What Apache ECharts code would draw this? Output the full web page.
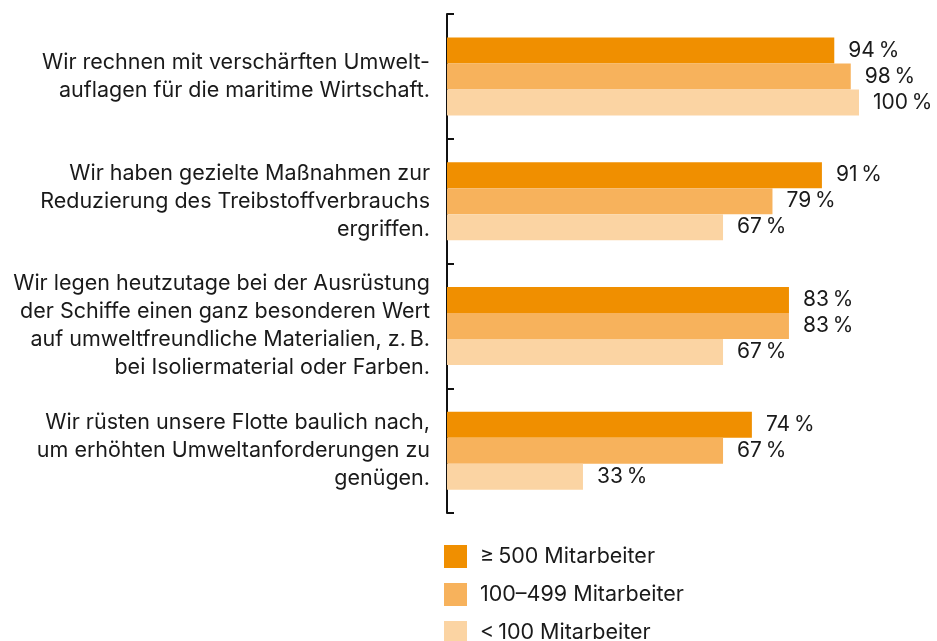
<!DOCTYPE html>
<html>
<head>
	<meta charset="UTF-8">
	<title>Umwelt</title>
	<script src="https://cdn.jsdelivr.net/npm/echarts@6/dist/echarts.min.js"></script>
	<style>
		html, body { margin: 0; padding: 0; background: #fff; }
		#chart { width: 937px; height: 641px; }
	</style>
</head>
<body>
	<div id="chart"></div>
	<script>
		var categories = [
			'Wir rechnen mit verschärften Umwelt-\nauflagen für die maritime Wirtschaft.',
			'Wir haben gezielte Maßnahmen zur\nReduzierung des Treibstoffverbrauchs\nergriffen.',
			'Wir legen heutzutage bei der Ausrüstung\nder Schiffe einen ganz besonderen Wert\nauf umweltfreundliche Materialien, z.\u2009B.\nbei Isoliermaterial oder Farben.',
			'Wir rüsten unsere Flotte baulich nach,\num erhöhten Umweltanforderungen zu\ngenügen.'
		];
		var seriesNames = ['\u2265\u2009500 Mitarbeiter', '100\u2013499 Mitarbeiter', '<\u2009100 Mitarbeiter'];
		var big = [94, 91, 83, 74];
		var mid = [98, 79, 83, 67];
		var small = [100, 67, 67, 33];
		var colors = ['#F08F00', '#F7B25C', '#FBD4A3'];

		var font = 'Inter, "Liberation Sans", Arial, sans-serif';
		function bar(name, data, color) {
			return {
				name: name,
				type: 'bar',
				data: data,
				barWidth: 26,
				barGap: 0,
				itemStyle: { color: color },
				label: {
					show: true,
					position: 'right',
					distance: 14,
					formatter: '{c}\u2009%',
					color: '#1a1a1a',
					fontSize: 21,
					fontFamily: font
				}
			};
		}

		var chart = echarts.init(document.getElementById('chart'), null, { renderer: 'canvas' });
		chart.setOption({
			animation: false,
			color: colors,
			grid: { left: 447, top: 14, right: 78, bottom: 128, containLabel: false },
			xAxis: { type: 'value', min: 0, max: 100, show: false },
			yAxis: {
				type: 'category',
				inverse: true,
				data: categories,
				axisLine: { show: true, lineStyle: { color: '#111', width: 2 } },
				axisTick: { show: true, inside: true, length: 7, lineStyle: { color: '#111', width: 2 } },
				axisLabel: {
					margin: 17,
					color: '#1a1a1a',
					fontSize: 21.5,
					lineHeight: 28,
					align: 'right',
					fontFamily: font
				},
				splitLine: { show: false }
			},
			legend: {
				orient: 'vertical',
				left: 444,
				top: 545,
				height: 120,
				itemWidth: 23,
				itemHeight: 23,
				itemGap: 15,
				icon: 'rect',
				padding: 0,
				textStyle: { fontSize: 21.5, color: '#1a1a1a', fontFamily: font, padding: [0, 0, 0, 8] },
				data: seriesNames
			},
			series: [
				bar(seriesNames[0], big, colors[0]),
				bar(seriesNames[1], mid, colors[1]),
				bar(seriesNames[2], small, colors[2])
			]
		});
	</script>
</body>
</html>
